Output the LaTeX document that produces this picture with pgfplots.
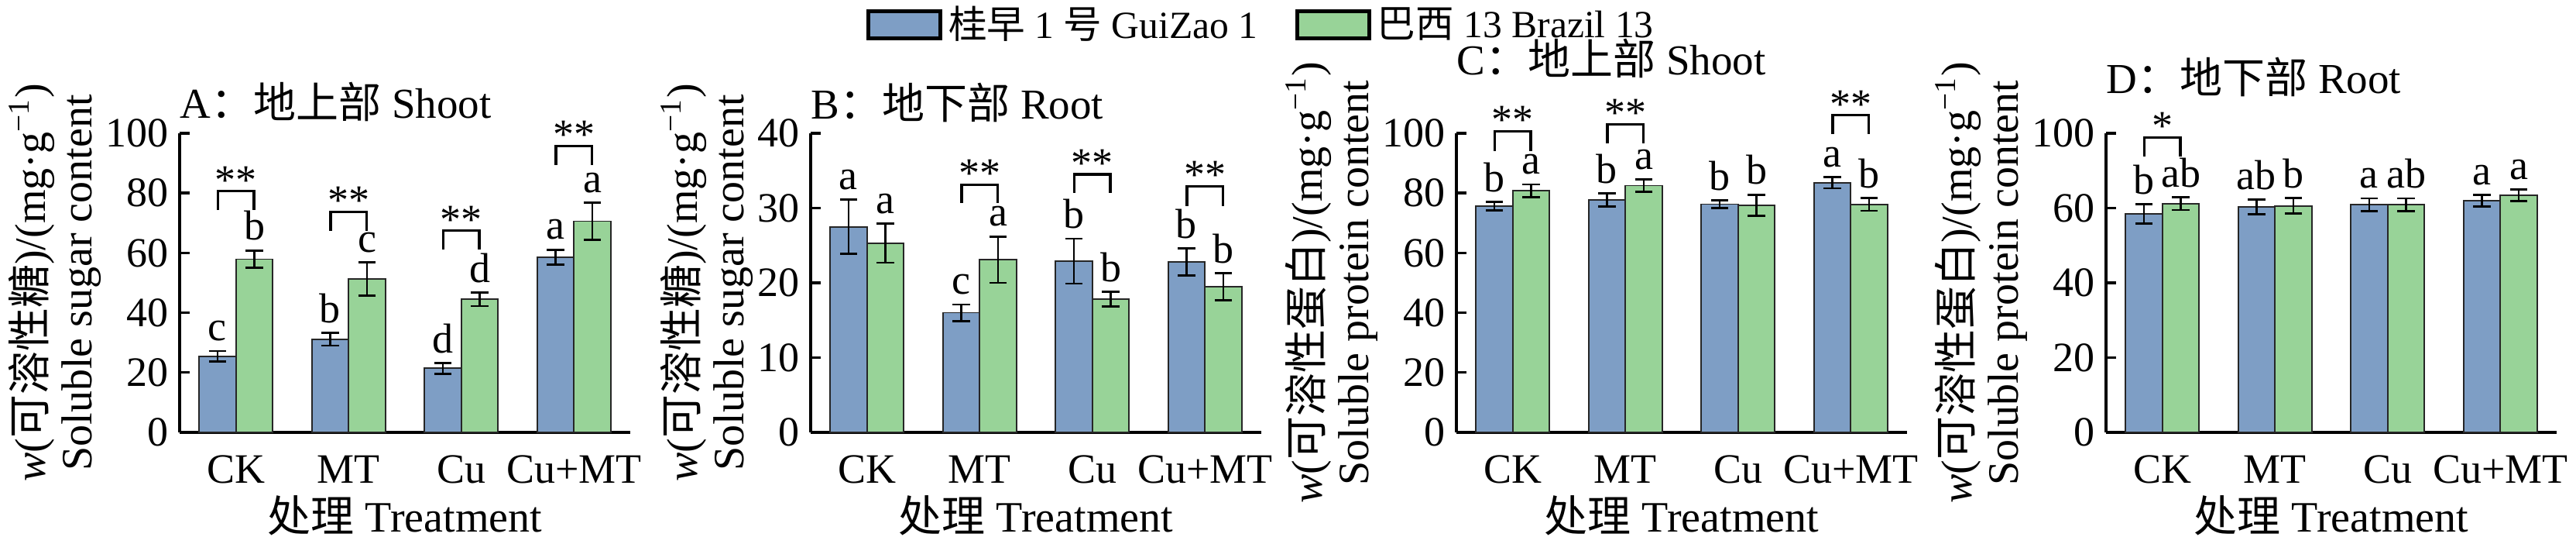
\documentclass[border=0pt]{standalone}
\usepackage{fontspec}
\setmainfont{Liberation Serif}
\newfontfamily\cjkfont{Noto Sans CJK SC}
\newcommand{\cjk}[1]{{\cjkfont #1}}
\usepackage{pgfplots}
\usepackage{pgfplotstable}
\pgfplotsset{compat=1.18}

\definecolor{cblue}{RGB}{126,158,197}
\definecolor{cgreen}{RGB}{152,211,152}

\newcommand{\tickfont}{\fontsize{13.5}{15}\selectfont}
\newcommand{\labfont}{\fontsize{14}{15}\selectfont}
\newcommand{\titfont}{\fontsize{13.75}{15}\selectfont}
\newcommand{\legfont}{\fontsize{12.4}{14}\selectfont}

% x: treatment (CK, MT, Cu, Cu+MT); g = GuiZao 1, b = Brazil 13; e = error; l = letters
\pgfplotstableread{
x g ge b be lg lb
0 25.4 1.8 57.9 2.9 c b
1 31.1 2.1 51.3 5.5 b c
2 21.4 1.8 44.5 2.3 d d
3 58.6 2.5 70.6 6.2 a a
}\sugarshoot
\pgfplotstableread{
x g ge b be lg lb
0 27.5 3.6 25.3 2.6 a a
1 16.0 1.1 23.1 3.1 c a
2 22.9 3.0 17.8 1.0 b b
3 22.8 1.8 19.5 1.8 b b
}\sugarroot
\pgfplotstableread{
x g ge b be lg lb
0 75.7 1.4 80.8 2.1 b a
1 77.7 2.2 82.5 2.0 b a
2 76.3 1.3 76.0 3.5 b b
3 83.5 1.9 76.2 2.1 a b
}\protshoot
\pgfplotstableread{
x g ge b be lg lb
0 58.4 2.6 61.2 1.7 b ab
1 60.3 2.0 60.6 2.1 ab b
2 60.9 1.7 60.9 1.7 a ab
3 61.9 1.55 63.4 1.5 a a
}\protroot

% significance: x, top of bracket, stars
\pgfplotstableread{
x y s
0 80.6 **
1 73.7 **
2 67.4 **
3 95.7 **
}\sigA
\pgfplotstableread{
x y s
1 33.1 **
2 34.5 **
3 32.9 **
}\sigB
\pgfplotstableread{
x y s
0 100.6 **
1 103.0 **
3 106.0 **
}\sigC
\pgfplotstableread{
x y s
0 78.9 *
}\sigD

\pgfplotsset{
  every axis title shift=0pt,
  panel/.style={
    at={#1}, anchor=south west, scale only axis,
    width=145.5pt, height=96.5pt,
    xmin=-0.5, xmax=3.5, ymin=0, clip=false,
    axis x line*=bottom, axis y line*=left,
    axis line style={line width=0.85pt, black},
    xtick={0,1,2,3}, xticklabels={CK,MT,Cu,Cu+MT},
    xtick style={draw=none},
    ytick style={line width=0.85pt, black},
    tick align=inside, major tick length=3.3pt,
    ticklabel style={font=\tickfont},
    xticklabel style={yshift=-4pt},
    /pgf/number format/assume math mode=true,
    xlabel={\cjk{处理} Treatment},
    label style={font=\labfont},
    xlabel style={yshift=3pt},
    ylabel style={align=center, inner sep=0pt, yshift=-2pt},
    title style={at={(0,1)}, anchor=base west, font=\titfont, inner sep=0pt},
  },
  errs/.style={error bars/.cd, y dir=both, y explicit,
    error bar style={line width=0.7pt, black},
    error mark options={rotate=90, mark size=2.8pt, line width=0.7pt, black}},
  gzbar/.style={ybar, bar width=11.9pt, bar shift=0pt,
    fill=cblue, draw=black!85, line width=0.45pt,
    legend image code/.code={\draw[fill=cblue, draw=black, line width=1.3pt] (0pt,-4.4pt) rectangle (23.25pt,4.4pt);},
    errs},
  bzbar/.style={ybar, bar width=11.9pt, bar shift=0pt,
    fill=cgreen, draw=black!85, line width=0.45pt,
    legend image code/.code={\draw[fill=cgreen, draw=black, line width=1.3pt] (0pt,-4.4pt) rectangle (23.25pt,4.4pt);},
    errs},
  marks/.style={draw=none, mark=none, forget plot, nodes near coords,
    point meta=explicit symbolic,
    every node near coord/.append style={anchor=south, inner sep=0pt, yshift=#1, font=\tickfont, text=black}},
  brk/.style={black, line width=0.8pt, mark=none, forget plot},
}

% bars sit at x -/+ 0.1636 (half a bar width in axis units)
\newcommand{\panelplots}[2]{%
  \addplot[gzbar] table[x expr=\thisrow{x}-0.1636, y=g, y error=ge] {#1};
  \addplot[bzbar] table[x expr=\thisrow{x}+0.1636, y=b, y error=be] {#1};
  \addplot[marks=3pt] table[x expr=\thisrow{x}-0.1636, y expr=\thisrow{g}+\thisrow{ge}, meta=lg] {#1};
  \addplot[marks=3pt] table[x expr=\thisrow{x}+0.1636, y expr=\thisrow{b}+\thisrow{be}, meta=lb] {#1};
  \addplot[marks=-1pt] table[x=x, y=y, meta=s] {#2};
}

\begin{document}
\begin{tikzpicture}
\useasboundingbox (0,0) rectangle (831.75pt,173.25pt);

% A
\begin{axis}[panel={(58pt,33.75pt)}, ymax=100, ytick={0,20,...,100},
  ylabel={\textit{w}(\cjk{可溶性糖})/(mg·g\textsuperscript{−1})\\Soluble sugar content},
  title={A\cjk{：地上部} Shoot}, title style={yshift=4.75pt}]
\panelplots{\sugarshoot}{\sigA}
\addplot[brk] coordinates {(-0.16,74.3) (-0.16,80.6) (0.16,80.6) (0.16,74.3)};
\addplot[brk] coordinates {(0.84,67.4) (0.84,73.7) (1.16,73.7) (1.16,67.4)};
\addplot[brk] coordinates {(1.84,61.1) (1.84,67.4) (2.16,67.4) (2.16,61.1)};
\addplot[brk] coordinates {(2.84,89.5) (2.84,95.7) (3.16,95.7) (3.16,89.5)};
\end{axis}

% B
\begin{axis}[panel={(261.75pt,33.75pt)}, ymax=40, ytick={0,10,...,40},
  ylabel={\textit{w}(\cjk{可溶性糖})/(mg·g\textsuperscript{−1})\\Soluble sugar content},
  title={B\cjk{：地下部} Root}, title style={yshift=4.5pt},
  legend style={at={(1.004,1.363)}, anchor=center, draw=none, fill=none,
    font=\legfont, legend columns=2,
    /tikz/every even column/.append style={column sep=10pt}}]
\panelplots{\sugarroot}{\sigB}
\addlegendentry{\cjk{桂早} 1 \cjk{号} GuiZao 1}
\addlegendentry{\cjk{巴西} 13 Brazil 13}
\addplot[brk] coordinates {(0.84,30.7) (0.84,33.1) (1.16,33.1) (1.16,30.7)};
\addplot[brk] coordinates {(1.84,32.0) (1.84,34.5) (2.16,34.5) (2.16,32.0)};
\addplot[brk] coordinates {(2.84,30.3) (2.84,32.9) (3.16,32.9) (3.16,30.3)};
\end{axis}

% C
\begin{axis}[panel={(470.25pt,33.75pt)}, ymax=100, ytick={0,20,...,100},
  ylabel={\textit{w}(\cjk{可溶性蛋白})/(mg·g\textsuperscript{−1})\\Soluble protein content},
  title={C\cjk{：地上部} Shoot}, title style={yshift=18.75pt}]
\panelplots{\protshoot}{\sigC}
\addplot[brk] coordinates {(-0.16,94.1) (-0.16,100.6) (0.16,100.6) (0.16,94.1)};
\addplot[brk] coordinates {(0.84,96.6) (0.84,103.0) (1.16,103.0) (1.16,96.6)};
\addplot[brk] coordinates {(2.84,99.8) (2.84,106.0) (3.16,106.0) (3.16,99.8)};
\end{axis}

% D
\begin{axis}[panel={(680pt,33.75pt)}, ymax=80, ytick={0,20,...,80},
  yticklabels={0,20,40,60,100},
  ylabel={\textit{w}(\cjk{可溶性蛋白})/(mg·g\textsuperscript{−1})\\Soluble protein content},
  title={D\cjk{：地下部} Root}, title style={yshift=12.75pt}]
\panelplots{\protroot}{\sigD}
\addplot[brk] coordinates {(-0.16,73.8) (-0.16,78.9) (0.16,78.9) (0.16,73.8)};
\end{axis}
\end{tikzpicture}
\end{document}
